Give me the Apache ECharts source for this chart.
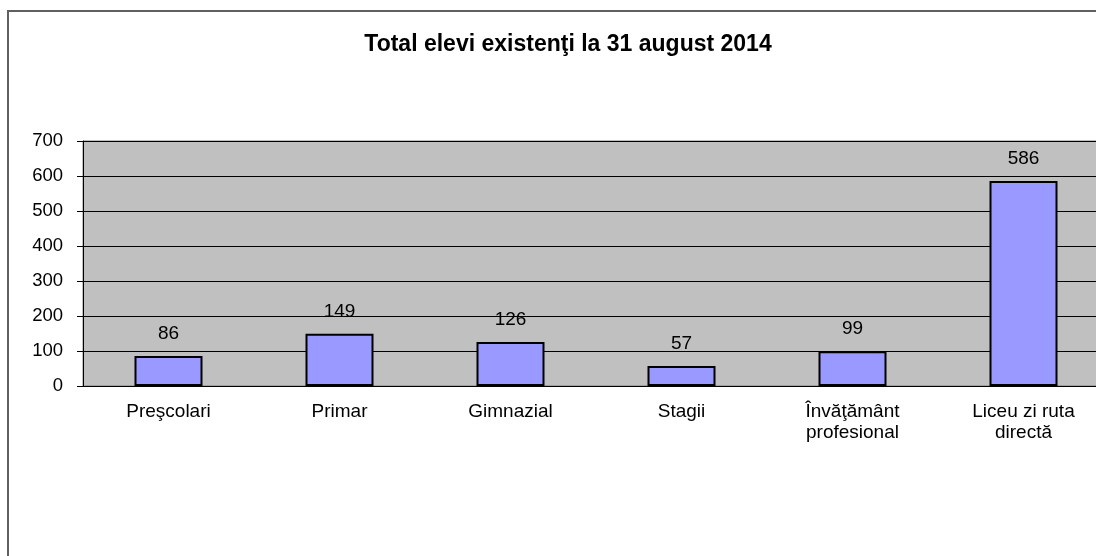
<!DOCTYPE html>
<html>
<head>
<meta charset="utf-8">
<script src="https://cdn.jsdelivr.net/npm/echarts@6/dist/echarts.min.js"></script>
<style>
  html, body { margin: 0; padding: 0; background: #fff; }
  #chart { width: 1096px; height: 556px; }
</style>
</head>
<body>
<div id="chart"></div>
<script>
// data
var titleText = "Total elevi existenţi la 31 august 2014";
var categories = ["Preşcolari", "Primar", "Gimnazial", "Stagii", "Învăţământ\nprofesional", "Liceu zi ruta\ndirectă"];
var values = [86, 149, 126, 57, 99, 586];

var font = "'Liberation Sans', Arial, sans-serif";
var myChart = echarts.init(document.getElementById("chart"));
myChart.setOption({
  animation: false,
  backgroundColor: "#fff",
  textStyle: { fontFamily: font },
  title: {
    text: titleText,
    left: 563,
    textAlign: "center",
    top: 28,
    textStyle: { fontFamily: font, fontSize: 23, fontWeight: "bold", color: "#000" }
  },
  // outer chart frame (cut off at right and bottom)
  graphic: [
    {
      type: "rect",
      silent: true,
      shape: { x: 8, y: 11, width: 1200, height: 700 },
      style: { fill: "none", stroke: "#606060", lineWidth: 2 }
    }
  ],
  grid: {
    left: 83,
    top: 141,
    right: -13,
    bottom: 170,
    show: true,
    backgroundColor: "#C0C0C0",
    borderColor: "#808080",
    borderWidth: 1,
    outerBoundsMode: "none"
  },
  xAxis: {
    type: "category",
    data: categories,
    axisLine: { lineStyle: { color: "#000", width: 1 } },
    axisTick: { length: 5, lineStyle: { color: "#000" } },
    axisLabel: {
      interval: 0,
      color: "#000",
      fontSize: 19,
      lineHeight: 21,
      margin: 15,
      fontFamily: font
    }
  },
  yAxis: {
    type: "value",
    min: 0,
    max: 700,
    interval: 100,
    axisLine: { show: true, lineStyle: { color: "#000" } },
    axisTick: { show: true, length: 6, lineStyle: { color: "#000" } },
    axisLabel: { color: "#000", fontSize: 18.5, margin: 20, fontFamily: font },
    splitLine: { lineStyle: { color: "#000", width: 1 } }
  },
  series: [
    {
      type: "bar",
      data: values,
      barWidth: 68,
      itemStyle: { color: "#9999FF", borderColor: "#000", borderWidth: 2 },
      label: {
        show: true,
        position: "top",
        distance: 13,
        color: "#000",
        fontSize: 19,
        fontFamily: font
      }
    }
  ]
});
</script>
</body>
</html>
